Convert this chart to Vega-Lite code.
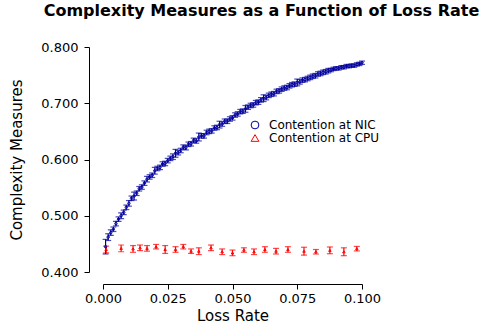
{
  "$schema": "https://vega.github.io/schema/vega-lite/v6.json",
  "width": 259,
  "height": 225,
  "autosize": "none",
  "padding": {"left": 103, "top": 47, "right": 125, "bottom": 56},
  "background": "white",
  "config": {
    "view": {"stroke": null},
    "font": "DejaVu Sans",
    "legend": {
      "orient": "none", "legendX": 146, "legendY": 72, "title": null,
      "labelFont": "DejaVu Sans", "labelFontSize": 12, "labelColor": "black",
      "symbolSize": 60, "symbolStrokeWidth": 1, "labelOffset": 8, "rowPadding": 1
    }
  },
  "title": {
    "text": "Complexity Measures as a Function of Loss Rate",
    "font": "DejaVu Sans",
    "fontSize": 16,
    "fontWeight": "bold",
    "color": "black",
    "anchor": "middle",
    "dx": 29,
    "offset": 22
  },
  "datasets": {
    "d": [
      {"s": "NIC", "x": 0.001, "y": 0.445, "lo": 0.432, "hi": 0.458},
      {"s": "NIC", "x": 0.002, "y": 0.462, "lo": 0.456, "hi": 0.468},
      {"s": "NIC", "x": 0.003, "y": 0.470, "lo": 0.465, "hi": 0.475},
      {"s": "NIC", "x": 0.004, "y": 0.476, "lo": 0.472, "hi": 0.480},
      {"s": "NIC", "x": 0.005, "y": 0.486, "lo": 0.482, "hi": 0.490},
      {"s": "NIC", "x": 0.006, "y": 0.494, "lo": 0.490, "hi": 0.498},
      {"s": "NIC", "x": 0.007, "y": 0.500, "lo": 0.495, "hi": 0.505},
      {"s": "NIC", "x": 0.008, "y": 0.506, "lo": 0.502, "hi": 0.510},
      {"s": "NIC", "x": 0.009, "y": 0.515, "lo": 0.511, "hi": 0.519},
      {"s": "NIC", "x": 0.010, "y": 0.522, "lo": 0.517, "hi": 0.527},
      {"s": "NIC", "x": 0.011, "y": 0.531, "lo": 0.527, "hi": 0.535},
      {"s": "NIC", "x": 0.012, "y": 0.535, "lo": 0.528, "hi": 0.542},
      {"s": "NIC", "x": 0.013, "y": 0.540, "lo": 0.536, "hi": 0.544},
      {"s": "NIC", "x": 0.014, "y": 0.548, "lo": 0.544, "hi": 0.552},
      {"s": "NIC", "x": 0.015, "y": 0.551, "lo": 0.547, "hi": 0.555},
      {"s": "NIC", "x": 0.016, "y": 0.558, "lo": 0.554, "hi": 0.562},
      {"s": "NIC", "x": 0.017, "y": 0.565, "lo": 0.560, "hi": 0.570},
      {"s": "NIC", "x": 0.018, "y": 0.569, "lo": 0.565, "hi": 0.573},
      {"s": "NIC", "x": 0.019, "y": 0.572, "lo": 0.568, "hi": 0.576},
      {"s": "NIC", "x": 0.020, "y": 0.580, "lo": 0.574, "hi": 0.586},
      {"s": "NIC", "x": 0.021, "y": 0.584, "lo": 0.580, "hi": 0.588},
      {"s": "NIC", "x": 0.022, "y": 0.586, "lo": 0.582, "hi": 0.590},
      {"s": "NIC", "x": 0.023, "y": 0.592, "lo": 0.588, "hi": 0.596},
      {"s": "NIC", "x": 0.024, "y": 0.593, "lo": 0.589, "hi": 0.597},
      {"s": "NIC", "x": 0.025, "y": 0.598, "lo": 0.594, "hi": 0.602},
      {"s": "NIC", "x": 0.026, "y": 0.602, "lo": 0.598, "hi": 0.606},
      {"s": "NIC", "x": 0.027, "y": 0.605, "lo": 0.600, "hi": 0.610},
      {"s": "NIC", "x": 0.028, "y": 0.611, "lo": 0.604, "hi": 0.618},
      {"s": "NIC", "x": 0.029, "y": 0.612, "lo": 0.608, "hi": 0.616},
      {"s": "NIC", "x": 0.030, "y": 0.616, "lo": 0.612, "hi": 0.620},
      {"s": "NIC", "x": 0.031, "y": 0.622, "lo": 0.618, "hi": 0.626},
      {"s": "NIC", "x": 0.032, "y": 0.621, "lo": 0.617, "hi": 0.625},
      {"s": "NIC", "x": 0.033, "y": 0.627, "lo": 0.623, "hi": 0.631},
      {"s": "NIC", "x": 0.034, "y": 0.628, "lo": 0.624, "hi": 0.632},
      {"s": "NIC", "x": 0.035, "y": 0.634, "lo": 0.630, "hi": 0.638},
      {"s": "NIC", "x": 0.036, "y": 0.633, "lo": 0.629, "hi": 0.637},
      {"s": "NIC", "x": 0.037, "y": 0.640, "lo": 0.633, "hi": 0.647},
      {"s": "NIC", "x": 0.038, "y": 0.642, "lo": 0.638, "hi": 0.646},
      {"s": "NIC", "x": 0.039, "y": 0.642, "lo": 0.638, "hi": 0.646},
      {"s": "NIC", "x": 0.040, "y": 0.648, "lo": 0.644, "hi": 0.652},
      {"s": "NIC", "x": 0.041, "y": 0.650, "lo": 0.646, "hi": 0.654},
      {"s": "NIC", "x": 0.042, "y": 0.651, "lo": 0.647, "hi": 0.655},
      {"s": "NIC", "x": 0.043, "y": 0.656, "lo": 0.652, "hi": 0.660},
      {"s": "NIC", "x": 0.044, "y": 0.657, "lo": 0.653, "hi": 0.661},
      {"s": "NIC", "x": 0.045, "y": 0.662, "lo": 0.656, "hi": 0.668},
      {"s": "NIC", "x": 0.046, "y": 0.663, "lo": 0.659, "hi": 0.667},
      {"s": "NIC", "x": 0.047, "y": 0.668, "lo": 0.664, "hi": 0.672},
      {"s": "NIC", "x": 0.048, "y": 0.668, "lo": 0.664, "hi": 0.672},
      {"s": "NIC", "x": 0.049, "y": 0.672, "lo": 0.668, "hi": 0.676},
      {"s": "NIC", "x": 0.050, "y": 0.674, "lo": 0.670, "hi": 0.678},
      {"s": "NIC", "x": 0.051, "y": 0.679, "lo": 0.675, "hi": 0.683},
      {"s": "NIC", "x": 0.052, "y": 0.681, "lo": 0.677, "hi": 0.685},
      {"s": "NIC", "x": 0.053, "y": 0.685, "lo": 0.681, "hi": 0.689},
      {"s": "NIC", "x": 0.054, "y": 0.686, "lo": 0.682, "hi": 0.690},
      {"s": "NIC", "x": 0.055, "y": 0.690, "lo": 0.684, "hi": 0.696},
      {"s": "NIC", "x": 0.056, "y": 0.693, "lo": 0.689, "hi": 0.697},
      {"s": "NIC", "x": 0.057, "y": 0.696, "lo": 0.692, "hi": 0.700},
      {"s": "NIC", "x": 0.058, "y": 0.697, "lo": 0.693, "hi": 0.701},
      {"s": "NIC", "x": 0.059, "y": 0.701, "lo": 0.697, "hi": 0.705},
      {"s": "NIC", "x": 0.060, "y": 0.702, "lo": 0.698, "hi": 0.706},
      {"s": "NIC", "x": 0.061, "y": 0.706, "lo": 0.702, "hi": 0.710},
      {"s": "NIC", "x": 0.062, "y": 0.709, "lo": 0.703, "hi": 0.715},
      {"s": "NIC", "x": 0.063, "y": 0.710, "lo": 0.706, "hi": 0.714},
      {"s": "NIC", "x": 0.064, "y": 0.714, "lo": 0.710, "hi": 0.718},
      {"s": "NIC", "x": 0.065, "y": 0.716, "lo": 0.712, "hi": 0.720},
      {"s": "NIC", "x": 0.066, "y": 0.717, "lo": 0.713, "hi": 0.721},
      {"s": "NIC", "x": 0.067, "y": 0.721, "lo": 0.717, "hi": 0.725},
      {"s": "NIC", "x": 0.068, "y": 0.722, "lo": 0.718, "hi": 0.726},
      {"s": "NIC", "x": 0.069, "y": 0.725, "lo": 0.721, "hi": 0.729},
      {"s": "NIC", "x": 0.070, "y": 0.727, "lo": 0.723, "hi": 0.731},
      {"s": "NIC", "x": 0.071, "y": 0.728, "lo": 0.724, "hi": 0.732},
      {"s": "NIC", "x": 0.072, "y": 0.731, "lo": 0.727, "hi": 0.735},
      {"s": "NIC", "x": 0.073, "y": 0.733, "lo": 0.729, "hi": 0.737},
      {"s": "NIC", "x": 0.074, "y": 0.734, "lo": 0.730, "hi": 0.738},
      {"s": "NIC", "x": 0.075, "y": 0.737, "lo": 0.731, "hi": 0.743},
      {"s": "NIC", "x": 0.076, "y": 0.738, "lo": 0.734, "hi": 0.742},
      {"s": "NIC", "x": 0.077, "y": 0.741, "lo": 0.737, "hi": 0.745},
      {"s": "NIC", "x": 0.078, "y": 0.742, "lo": 0.738, "hi": 0.746},
      {"s": "NIC", "x": 0.079, "y": 0.744, "lo": 0.740, "hi": 0.748},
      {"s": "NIC", "x": 0.080, "y": 0.746, "lo": 0.742, "hi": 0.750},
      {"s": "NIC", "x": 0.081, "y": 0.748, "lo": 0.744, "hi": 0.752},
      {"s": "NIC", "x": 0.082, "y": 0.749, "lo": 0.745, "hi": 0.753},
      {"s": "NIC", "x": 0.083, "y": 0.752, "lo": 0.748, "hi": 0.756},
      {"s": "NIC", "x": 0.084, "y": 0.753, "lo": 0.749, "hi": 0.757},
      {"s": "NIC", "x": 0.085, "y": 0.755, "lo": 0.751, "hi": 0.759},
      {"s": "NIC", "x": 0.086, "y": 0.756, "lo": 0.752, "hi": 0.760},
      {"s": "NIC", "x": 0.087, "y": 0.758, "lo": 0.754, "hi": 0.762},
      {"s": "NIC", "x": 0.088, "y": 0.759, "lo": 0.756, "hi": 0.762},
      {"s": "NIC", "x": 0.089, "y": 0.761, "lo": 0.758, "hi": 0.764},
      {"s": "NIC", "x": 0.090, "y": 0.762, "lo": 0.759, "hi": 0.765},
      {"s": "NIC", "x": 0.091, "y": 0.762, "lo": 0.759, "hi": 0.765},
      {"s": "NIC", "x": 0.092, "y": 0.764, "lo": 0.761, "hi": 0.767},
      {"s": "NIC", "x": 0.093, "y": 0.764, "lo": 0.761, "hi": 0.767},
      {"s": "NIC", "x": 0.094, "y": 0.766, "lo": 0.763, "hi": 0.769},
      {"s": "NIC", "x": 0.095, "y": 0.766, "lo": 0.763, "hi": 0.769},
      {"s": "NIC", "x": 0.096, "y": 0.767, "lo": 0.764, "hi": 0.770},
      {"s": "NIC", "x": 0.097, "y": 0.767, "lo": 0.764, "hi": 0.770},
      {"s": "NIC", "x": 0.098, "y": 0.769, "lo": 0.766, "hi": 0.772},
      {"s": "NIC", "x": 0.099, "y": 0.770, "lo": 0.767, "hi": 0.773},
      {"s": "NIC", "x": 0.100, "y": 0.772, "lo": 0.769, "hi": 0.775},
      {"s": "CPU", "x": 0.0012, "y": 0.440, "lo": 0.434, "hi": 0.446},
      {"s": "CPU", "x": 0.0070, "y": 0.442, "lo": 0.436, "hi": 0.448},
      {"s": "CPU", "x": 0.0116, "y": 0.441, "lo": 0.435, "hi": 0.447},
      {"s": "CPU", "x": 0.0143, "y": 0.443, "lo": 0.438, "hi": 0.448},
      {"s": "CPU", "x": 0.0170, "y": 0.442, "lo": 0.437, "hi": 0.447},
      {"s": "CPU", "x": 0.0205, "y": 0.445, "lo": 0.441, "hi": 0.449},
      {"s": "CPU", "x": 0.0240, "y": 0.440, "lo": 0.433, "hi": 0.447},
      {"s": "CPU", "x": 0.0280, "y": 0.440, "lo": 0.435, "hi": 0.445},
      {"s": "CPU", "x": 0.0310, "y": 0.445, "lo": 0.441, "hi": 0.449},
      {"s": "CPU", "x": 0.0340, "y": 0.437, "lo": 0.433, "hi": 0.441},
      {"s": "CPU", "x": 0.0370, "y": 0.437, "lo": 0.431, "hi": 0.443},
      {"s": "CPU", "x": 0.0417, "y": 0.443, "lo": 0.438, "hi": 0.448},
      {"s": "CPU", "x": 0.0460, "y": 0.436, "lo": 0.431, "hi": 0.441},
      {"s": "CPU", "x": 0.0500, "y": 0.434, "lo": 0.429, "hi": 0.439},
      {"s": "CPU", "x": 0.0544, "y": 0.439, "lo": 0.435, "hi": 0.443},
      {"s": "CPU", "x": 0.0583, "y": 0.436, "lo": 0.431, "hi": 0.441},
      {"s": "CPU", "x": 0.0625, "y": 0.440, "lo": 0.435, "hi": 0.445},
      {"s": "CPU", "x": 0.0668, "y": 0.437, "lo": 0.432, "hi": 0.442},
      {"s": "CPU", "x": 0.0714, "y": 0.440, "lo": 0.435, "hi": 0.445},
      {"s": "CPU", "x": 0.0776, "y": 0.437, "lo": 0.430, "hi": 0.444},
      {"s": "CPU", "x": 0.0822, "y": 0.436, "lo": 0.432, "hi": 0.440},
      {"s": "CPU", "x": 0.0876, "y": 0.4385, "lo": 0.4325, "hi": 0.4445},
      {"s": "CPU", "x": 0.0930, "y": 0.436, "lo": 0.429, "hi": 0.443},
      {"s": "CPU", "x": 0.0980, "y": 0.4415, "lo": 0.4375, "hi": 0.4455}
    ]
  },
  "data": {"name": "d"},
  "layer": [
    {
      "transform": [{"filter": "datum.s === 'NIC'"}],
      "mark": {"type": "errorbar", "ticks": true, "size": 6, "thickness": 1.2, "color": "#00009C"},
      "encoding": {
        "x": {
          "field": "x", "type": "quantitative", "title": "Loss Rate",
          "scale": {"domain": [0, 0.1], "nice": false, "zero": false},
          "axis": {
            "values": [0, 0.025, 0.05, 0.075, 0.1], "format": ".3f", "offset": 12,
            "grid": false, "tickSize": 5, "labelPadding": 3, "labelFlush": false,
            "labelFont": "DejaVu Sans", "labelFontSize": 13, "labelColor": "black",
            "domainColor": "black", "tickColor": "black",
            "title": "Loss Rate", "titleFont": "DejaVu Sans", "titleFontSize": 15,
            "titleFontWeight": "normal", "titleColor": "black", "titlePadding": 3
          }
        },
        "y": {
          "field": "lo", "type": "quantitative", "title": "Complexity Measures",
          "scale": {"domain": [0.4, 0.8], "nice": false, "zero": false},
          "axis": {
            "values": [0.4, 0.5, 0.6, 0.7, 0.8], "format": ".3f", "offset": 14,
            "grid": false, "tickSize": 5, "labelPadding": 6, "labelFlush": false,
            "labelFont": "DejaVu Sans", "labelFontSize": 13, "labelColor": "black",
            "domainColor": "black", "tickColor": "black",
            "title": "Complexity Measures", "titleFont": "DejaVu Sans", "titleFontSize": 15,
            "titleFontWeight": "normal", "titleColor": "black", "titlePadding": 16
          }
        },
        "y2": {"field": "hi"}
      }
    },
    {
      "transform": [{"filter": "datum.s === 'CPU'"}],
      "mark": {"type": "errorbar", "ticks": true, "size": 6, "thickness": 1.2, "color": "#FF0000"},
      "encoding": {
        "x": {"field": "x", "type": "quantitative", "title": "Loss Rate"},
        "y": {"field": "lo", "type": "quantitative", "title": "Complexity Measures"},
        "y2": {"field": "hi"}
      }
    },
    {
      "mark": {"type": "point", "filled": false, "size": 6, "strokeWidth": 1, "opacity": 1},
      "encoding": {
        "x": {"field": "x", "type": "quantitative", "title": "Loss Rate"},
        "y": {"field": "y", "type": "quantitative", "title": "Complexity Measures"},
        "color": {
          "field": "s", "type": "nominal",
          "scale": {"domain": ["NIC", "CPU"], "range": ["#00009C", "#FF0000"]},
          "legend": {"labelExpr": "'Contention at ' + datum.label"}
        },
        "shape": {
          "field": "s", "type": "nominal",
          "scale": {"domain": ["NIC", "CPU"], "range": ["circle", "triangle-up"]},
          "legend": {"labelExpr": "'Contention at ' + datum.label"}
        }
      }
    }
  ]
}
